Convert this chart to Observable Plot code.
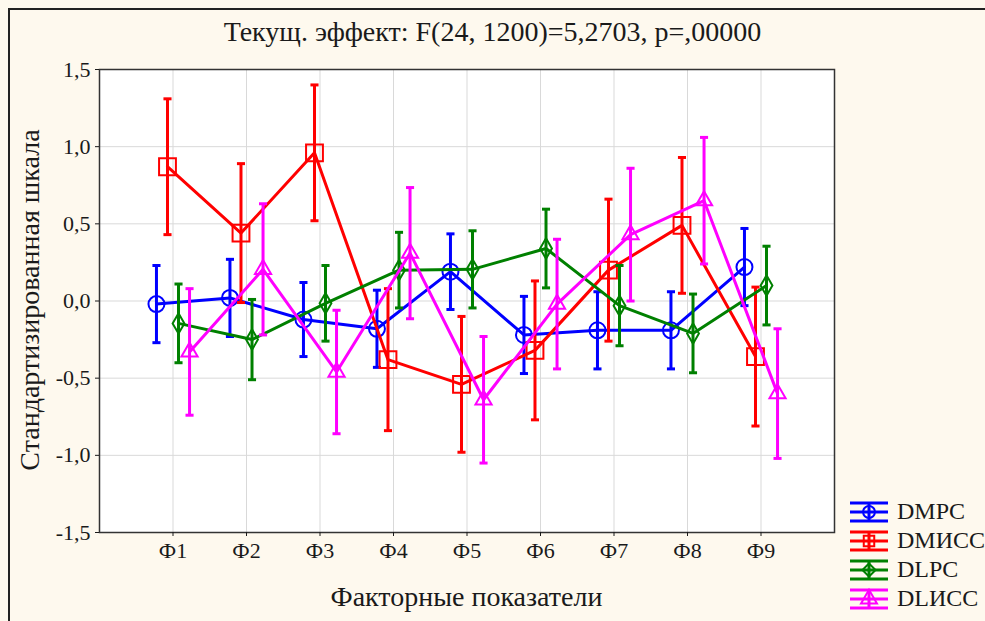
<!DOCTYPE html>
<html><head><meta charset="utf-8">
<script src="https://cdn.jsdelivr.net/npm/d3@7"></script>
<script src="https://cdn.jsdelivr.net/npm/@observablehq/plot@0.6"></script>
<style>
html,body{margin:0;padding:0;background:#fef9ee;overflow:hidden;}
#wrap{position:relative;width:985px;height:621px;overflow:hidden;font-family:"Liberation Serif","Times New Roman",serif;color:#1a1a1a;}
#border{position:absolute;left:8px;top:8px;width:1100px;height:800px;border:2px solid #222;box-sizing:border-box;}
#chart{position:absolute;left:0;top:0;}
#title{position:absolute;left:0;width:985px;top:17px;line-height:30px;text-align:center;font-size:28px;white-space:nowrap;}
#xtitle{position:absolute;left:99px;width:735px;top:582px;line-height:30px;text-align:center;font-size:28px;white-space:nowrap;}
#ytitle{position:absolute;left:30px;top:300px;transform:translate(-50%,-50%) rotate(-90deg);line-height:30px;font-size:28px;white-space:nowrap;}
#legend{position:absolute;left:848px;top:497px;}
.row{display:flex;align-items:center;height:29px;font-size:24px;}
.row span{margin-left:5px;}
</style></head>
<body><div id="wrap"><div id="border"></div><div id="chart"></div>
<div id="title">Текущ. эффект: F(24, 1200)=5,2703, p=,00000</div>
<div id="xtitle">Факторные показатели</div>
<div id="ytitle">Стандартизированная шкала</div>
<div id="legend"></div></div>
<script>
const categories = ["Ф1","Ф2","Ф3","Ф4","Ф5","Ф6","Ф7","Ф8","Ф9"];
const seriesNames = ["DMPC","DMИСС","DLPC","DLИСС"];
const seriesColors = ["#0000ff","#ff0000","#008000","#ff00ff"];
const seriesSymbols = ["circle","square","diamond","triangle"];
const dmpcMean  = [-0.02, 0.02, -0.12, -0.18, 0.19, -0.22, -0.19, -0.19, 0.22];
const dmpcErr   = [0.25, 0.25, 0.24, 0.25, 0.245, 0.25, 0.25, 0.25, 0.25];
const dmissMean = [0.87, 0.44, 0.96, -0.38, -0.54, -0.32, 0.20, 0.49, -0.36];
const dmissErr  = [0.44, 0.45, 0.44, 0.46, 0.44, 0.45, 0.46, 0.44, 0.45];
const dlpcMean  = [-0.145, -0.25, -0.015, 0.20, 0.205, 0.34, -0.03, -0.21, 0.10];
const dlpcErr   = [0.255, 0.26, 0.245, 0.245, 0.25, 0.255, 0.26, 0.255, 0.255];
const dlissMean = [-0.33, 0.205, -0.46, 0.31, -0.64, -0.02, 0.43, 0.65, -0.60];
const dlissErr  = [0.41, 0.425, 0.40, 0.425, 0.41, 0.42, 0.43, 0.41, 0.42];
const yTicks = [-1.5, -1, -0.5, 0, 0.5, 1, 1.5];

const means = [dmpcMean, dmissMean, dlpcMean, dlissMean];
const errs = [dmpcErr, dmissErr, dlpcErr, dlissErr];
const rows = seriesNames.flatMap((s, i) => categories.map((c, j) => ({
  series: s, si: i, cat: j + 1, x: j + 1 + (i - 1.5) * 0.15,
  mean: means[i][j], lo: means[i][j] - errs[i][j], hi: means[i][j] + errs[i][j]
})));
const dotR = [8, 9.5, 6.2, 6];
const capHalf = 0.055;
const fmt = d => d3.format(".1f")(d).replace(".", ",").replace("\u2212", "-");

const marks = [
  Plot.frame({fill: "white"}),
  Plot.gridX({ticks: d3.range(1, 10), stroke: "#d9d9d9", strokeOpacity: 1}),
  Plot.gridY({ticks: yTicks, stroke: "#d9d9d9", strokeOpacity: 1})
];
seriesNames.forEach((s, i) => {
  const d = rows.filter(r => r.si === i);
  const c = seriesColors[i];
  marks.push(Plot.ruleX(d, {x: "x", y1: "lo", y2: "hi", stroke: c, strokeWidth: 3}));
  marks.push(Plot.link(d, {x1: r => r.x - capHalf, x2: r => r.x + capHalf, y1: "hi", y2: "hi", stroke: c, strokeWidth: 3}));
  marks.push(Plot.link(d, {x1: r => r.x - capHalf, x2: r => r.x + capHalf, y1: "lo", y2: "lo", stroke: c, strokeWidth: 3}));
  marks.push(Plot.line(d, {x: "x", y: "mean", stroke: c, strokeWidth: 3}));
  marks.push(Plot.dot(d, {x: "x", y: "mean", symbol: seriesSymbols[i], r: dotR[i], stroke: c, strokeWidth: 2, fill: "none"}));
});
marks.push(Plot.frame({stroke: "#333", strokeWidth: 1.5}));
marks.push(Plot.axisY({ticks: yTicks, tickFormat: fmt, tickSize: 4, tickPadding: 5, fontSize: 22, label: null}));
marks.push(Plot.axisX({ticks: d3.range(1, 10), tickFormat: d => categories[d - 1], tickSize: 4, tickPadding: 6, fontSize: 22, label: null}));

const chart = Plot.plot({
  width: 985, height: 621,
  marginLeft: 99, marginRight: 151, marginTop: 69, marginBottom: 89,
  x: {domain: [0, 10]},
  y: {domain: [-1.5, 1.5]},
  style: {fontFamily: "'Liberation Serif','Times New Roman',serif", background: "transparent", color: "#1a1a1a"},
  marks
});
document.getElementById("chart").appendChild(chart);

const leg = d3.select("#legend");
seriesNames.forEach((s, i) => {
  const c = seriesColors[i];
  const row = leg.append("div").attr("class", "row");
  const svg = row.append("svg").attr("width", 44).attr("height", 24);
  [[2, 40, 3, 3], [2, 40, 12, 12], [2, 40, 21, 21], [21, 21, 3, 21]].forEach(([x1, x2, y1, y2]) =>
    svg.append("line").attr("x1", x1).attr("x2", x2).attr("y1", y1).attr("y2", y2).attr("stroke", c).attr("stroke-width", 3));
  const symMap = {circle: d3.symbolCircle, square: d3.symbolSquare, diamond: d3.symbolDiamond2, triangle: d3.symbolTriangle};
  svg.append("path").attr("d", d3.symbol(symMap[seriesSymbols[i]], 110)()).attr("transform", "translate(21,12)")
    .attr("fill", "none").attr("stroke", c).attr("stroke-width", 2);
  row.append("span").text(s);
});
</script>
</body></html>
